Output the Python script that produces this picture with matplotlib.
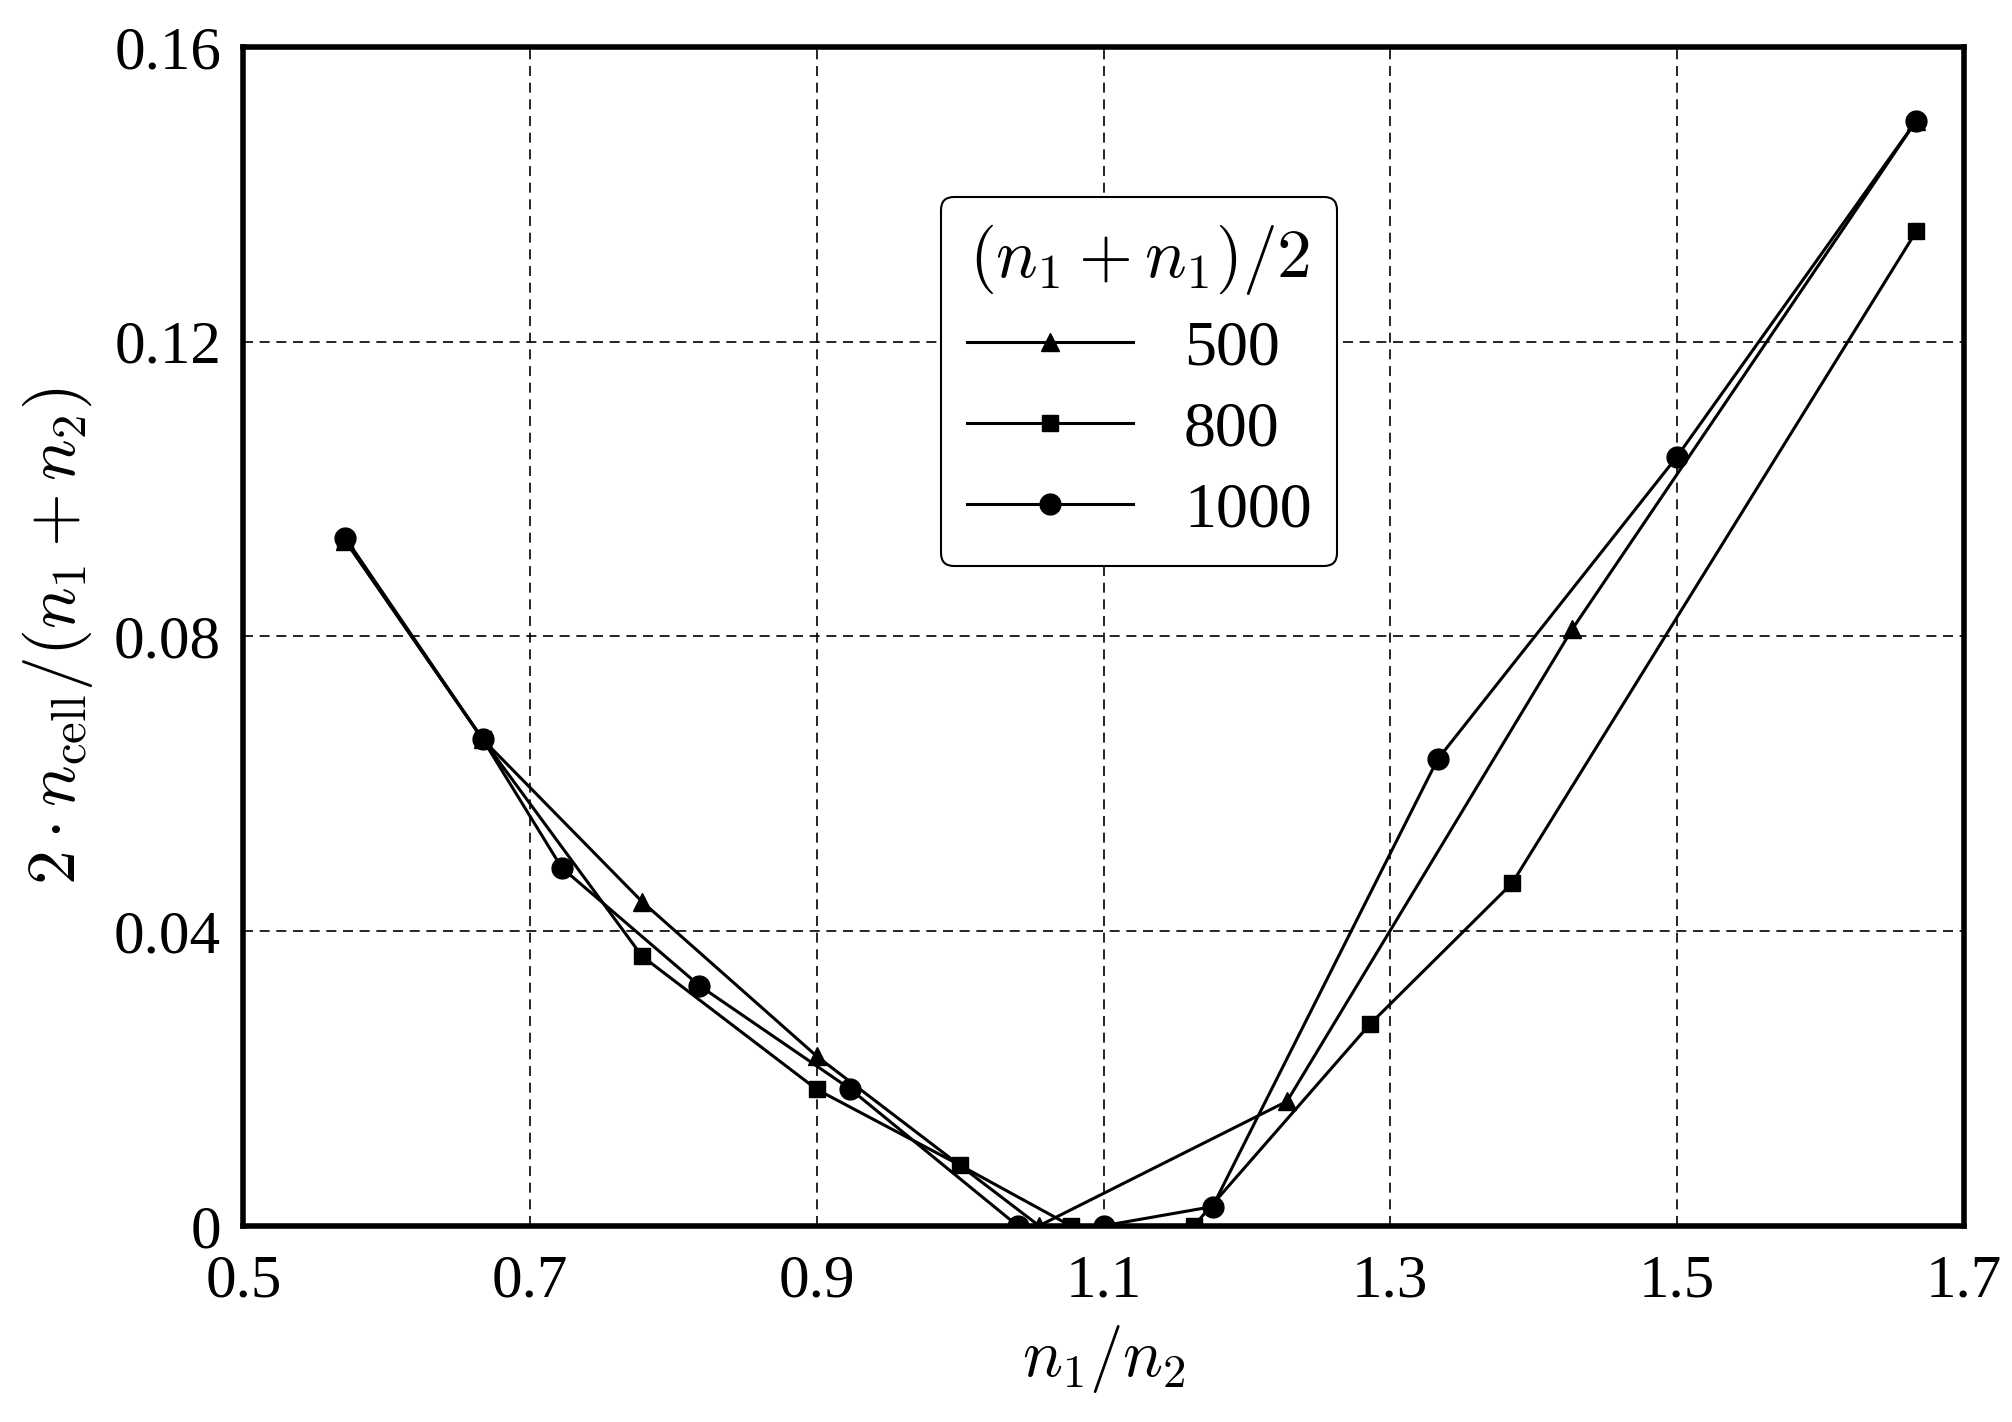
import matplotlib
matplotlib.use("Agg")
import matplotlib.pyplot as plt

plt.rcParams['font.family'] = ['Liberation Serif', 'DejaVu Serif']
plt.rcParams['mathtext.fontset'] = 'cm'

x500 = [0.571, 0.667, 0.778, 0.9, 1.055, 1.228, 1.427, 1.667]
y500 = [0.093, 0.066, 0.044, 0.023, 0.0, 0.0169, 0.081, 0.150]
x800 = [0.571, 0.667, 0.778, 0.9, 1.0, 1.077, 1.163, 1.286, 1.385, 1.667]
y800 = [0.093, 0.066, 0.0366, 0.0185, 0.0082, 0.0, 0.0, 0.0274, 0.0465, 0.135]
x1000 = [0.571, 0.667, 0.722, 0.818, 0.923, 1.04, 1.1, 1.176, 1.333, 1.5, 1.667]
y1000 = [0.0934, 0.066, 0.0486, 0.0326, 0.0186, 0.0, 0.0, 0.0026, 0.0633, 0.1044, 0.150]
labels = ['500', '800', '1000']
xticks = [0.5, 0.7, 0.9, 1.1, 1.3, 1.5, 1.7]
yticks = [0, 0.04, 0.08, 0.12, 0.16]
yticklabels = ['0', '0.04', '0.08', '0.12', '0.16']

fig = plt.figure(figsize=(20.12, 14.22), dpi=100)
ax = fig.add_axes([0.121, 0.138, 0.855, 0.829])
ax.plot(x500, y500, '-^', color='black', lw=2.2, ms=13, label=labels[0])
ax.plot(x800, y800, '-s', color='black', lw=2.2, ms=12, label=labels[1])
ax.plot(x1000, y1000, '-o', color='black', lw=2.2, ms=15, label=labels[2])
ax.set_xlim(0.5, 1.7)
ax.set_ylim(0, 0.16)
ax.set_xticks(xticks)
ax.set_xticklabels([f'{t:.1f}' for t in xticks])
ax.set_yticks(yticks)
ax.set_yticklabels(yticklabels)
ax.tick_params(axis='both', labelsize=44, length=0)
ax.tick_params(axis='x', pad=20)
ax.tick_params(axis='y', pad=16)
ax.grid(True, ls=(0, (6, 4)), color='black', lw=1.2)
for s in ax.spines.values():
    s.set_linewidth(4)
ax.set_xlabel(r'$n_1/n_2$', fontsize=48, labelpad=10)
ax.set_ylabel(r'$2\cdot n_{\mathrm{cell}}/(n_1+n_2)$', fontsize=50, labelpad=14)
leg = ax.legend(title=r'$(n_1+n_1)/2$', fontsize=46, title_fontsize=50,
                loc='upper left', bbox_to_anchor=(0.387, 0.9), fancybox=True,
                edgecolor='black', framealpha=1, handlelength=2.6,
                labelspacing=0.35)
leg.get_frame().set_linewidth(1.5)
fig.savefig('out.png', dpi=100)
